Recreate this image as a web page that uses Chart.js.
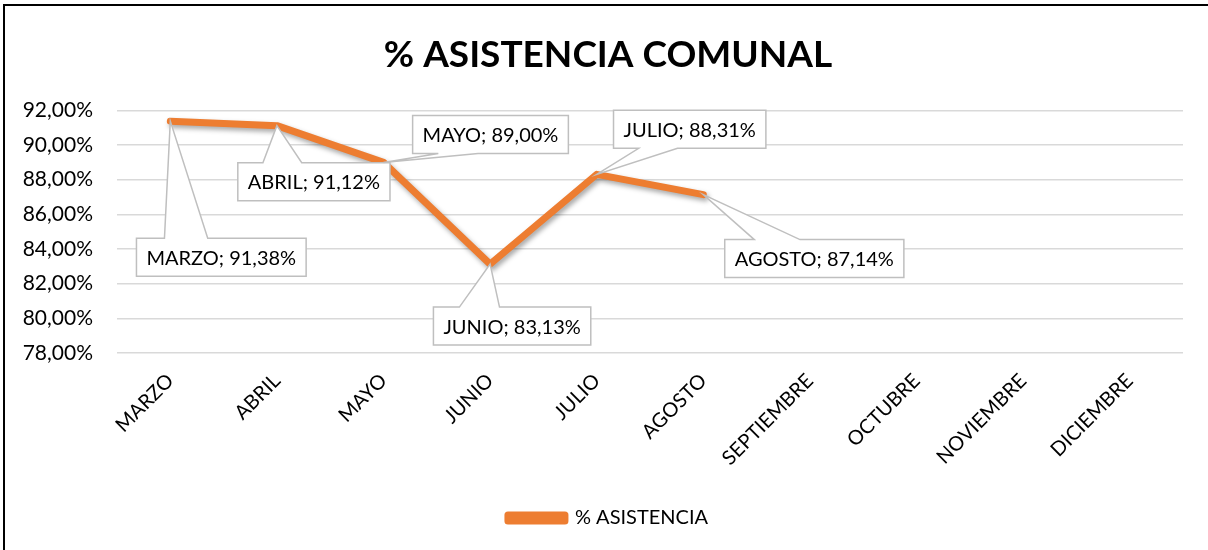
<!DOCTYPE html>
<html>
<head>
<meta charset="utf-8">
<title>% ASISTENCIA COMUNAL</title>
<script src="https://cdn.jsdelivr.net/npm/chart.js@4.4.1/dist/chart.umd.min.js"></script>
<style>
    html, body { margin: 0; padding: 0; background: #fff; overflow: hidden; }
    #marco {
        position: absolute; left: 3px; top: 4px;
        width: 1210px; height: 550px;
        border: 2px solid #000; box-sizing: border-box;
    }
</style>
</head>
<body>
<div id="marco"><canvas id="grafico" width="1206" height="546"></canvas></div>
<script>
// Datos del grafico
const meses = ['MARZO', 'ABRIL', 'MAYO', 'JUNIO', 'JULIO', 'AGOSTO', 'SEPTIEMBRE', 'OCTUBRE', 'NOVIEMBRE', 'DICIEMBRE'];
const asistencia = [91.38, 91.12, 89.00, 83.13, 88.31, 87.14, null, null, null, null];
const ejeY = [78, 80, 82, 84, 86, 88, 90, 92];

const naranja = '#ED7D31';
const fmt = (v) => v.toFixed(2).replace('.', ',') + '%';

// Etiquetas tipo "globo" con linea guia
const globos = {
    id: 'globos',
    afterDatasetsDraw(chart, args, opts) {
        const ctx = chart.ctx;
        const meta = chart.getDatasetMeta(0);
        ctx.save();
        ctx.font = '20px Lato';
        ctx.textAlign = 'center';
        ctx.textBaseline = 'middle';
        meta.data.forEach((pt, i) => {
            const off = opts.desplazamientos[i];
            if (!off || asistencia[i] == null) return;
            const texto = meses[i] + '; ' + fmt(asistencia[i]);
            const w = ctx.measureText(texto).width + 2 * opts.padX;
            const h = opts.alto;
            const cx = pt.x + off[0], cy = pt.y + off[1];
            const l = cx - w / 2, t = cy - h / 2, r = l + w, b = t + h;
            const a = l + w * 0.165, c = l + w * 0.42;
            ctx.beginPath();
            if (off[1] > 0) {
                ctx.moveTo(l, t); ctx.lineTo(a, t); ctx.lineTo(pt.x, pt.y); ctx.lineTo(c, t);
                ctx.lineTo(r, t); ctx.lineTo(r, b); ctx.lineTo(l, b);
            } else {
                ctx.moveTo(l, t); ctx.lineTo(r, t); ctx.lineTo(r, b); ctx.lineTo(c, b);
                ctx.lineTo(pt.x, pt.y); ctx.lineTo(a, b); ctx.lineTo(l, b);
            }
            ctx.closePath();
            ctx.fillStyle = '#fff';
            ctx.fill();
            ctx.strokeStyle = '#BFBFBF';
            ctx.lineWidth = 1.5;
            ctx.stroke();
            ctx.fillStyle = '#000';
            ctx.fillText(texto, cx, cy + 1);
        });
        ctx.restore();
    }
};

// Sombra de la linea
const sombra = {
    id: 'sombra',
    beforeDatasetsDraw(chart) {
        const ctx = chart.ctx;
        ctx.save();
        ctx.shadowColor = 'rgba(0,0,0,0.35)';
        ctx.shadowBlur = 5;
        ctx.shadowOffsetX = 2;
        ctx.shadowOffsetY = 3;
    },
    afterDatasetsDraw(chart) {
        chart.ctx.restore();
    }
};

const ctx = document.getElementById('grafico').getContext('2d');
new Chart(ctx, {
    type: 'line',
    data: {
        labels: meses,
        datasets: [{
            label: '% ASISTENCIA',
            data: asistencia,
            borderColor: naranja,
            backgroundColor: naranja,
            borderWidth: 7,
            pointRadius: 0,
            tension: 0,
            borderJoinStyle: 'round',
            borderCapStyle: 'round'
        }]
    },
    plugins: [sombra, globos],
    options: {
        responsive: false,
        animation: false,
        layout: { padding: { left: 0, right: 0, top: 0, bottom: 14 } },
        scales: {
            y: {
                min: 78,
                max: 92,
                afterBuildTicks: (s) => { s.ticks = ejeY.map(v => ({ value: v })); },
                afterFit: (s) => { s.width = 112; },
                ticks: {
                    padding: 24,
                    color: '#000',
                    font: { family: 'Lato', size: 21 },
                    callback: (v) => fmt(v)
                },
                grid: { color: '#D9D9D9', lineWidth: 1.5, drawTicks: false },
                border: { display: false }
            },
            // margen derecho del area de trazado
            margen: {
                position: 'right',
                min: 0,
                max: 1,
                afterFit: (s) => { s.width = 28; },
                ticks: { display: false },
                grid: { display: false, drawTicks: false },
                border: { display: false }
            },
            x: {
                offset: true,
                afterFit: (s) => { s.height = 145; },
                ticks: {
                    minRotation: 45,
                    maxRotation: 45,
                    padding: 16,
                    color: '#000',
                    font: { family: 'Lato', size: 20 }
                },
                grid: { display: false, drawTicks: false },
                border: { display: false }
            }
        },
        plugins: {
            title: {
                display: true,
                text: '% ASISTENCIA COMUNAL',
                color: '#000',
                font: { family: 'Lato', size: 37, weight: 'bold' },
                padding: { top: 27, bottom: 33 }
            },
            legend: {
                position: 'bottom',
                labels: {
                    color: '#000',
                    font: { family: 'Lato', size: 20 },
                    boxWidth: 57,
                    boxHeight: 6,
                    padding: 10
                }
            },
            tooltip: { enabled: false },
            globos: {
                padX: 10,
                alto: 38,
                desplazamientos: [[51, 136], [37, 56], [107, -28], [22, 62], [93, -45], [111, 64]]
            }
        }
    }
});
</script>
</body>
</html>
